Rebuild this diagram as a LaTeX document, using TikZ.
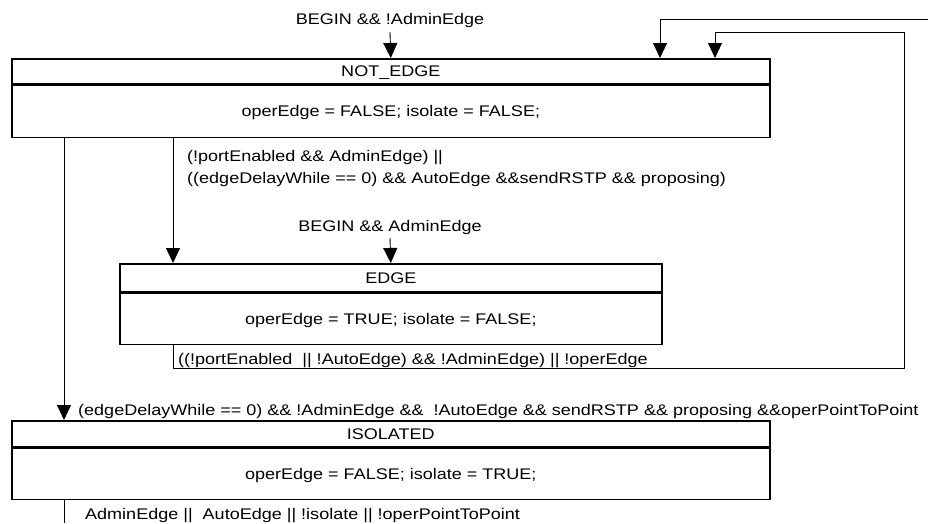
\documentclass[tikz,border=0pt]{standalone}
\usepackage{fontspec}
\setmainfont[FakeStretch=1.17]{Liberation Sans}
\usetikzlibrary{arrows.meta,calc}

\tikzset{
  boxline/.style={draw=black, line width=1.6pt},
  hdr/.style={boxline, anchor=north west, inner sep=0pt, text height=11pt, text depth=0pt},
  bodybox/.style={boxline, anchor=north west, inner sep=0pt, text height=11pt, text depth=0pt},
  cond/.style={inner sep=0pt, anchor=base west},
  initlbl/.style={inner sep=0pt, anchor=base},
  wire/.style={draw=black, line width=0.9pt},
  arr/.style={wire, -{Triangle[length=15pt,width=14pt]}}
}

\begin{document}
\begin{tikzpicture}[x=1pt, y=-1pt, font=\fontsize{15.4}{22}\selectfont]
  \path[fill=white] (0,0) rectangle (928,523);
  \useasboundingbox (0,0) rectangle (928,523);

  % column positions of the vertical connectors
  \coordinate (xa) at (64,0);
  \coordinate (xb) at (173,0);
  \coordinate (xc) at (660,0);

  % NOT_EDGE state
  \node[hdr, minimum width=758pt, minimum height=25pt] (ne) at (11,58) {NOT\_EDGE};
  \node[bodybox, minimum width=758pt, minimum height=52pt] (neb) at (ne.south west) {operEdge = FALSE; isolate = FALSE;};

  % EDGE state
  \node[hdr, minimum width=542pt, minimum height=28pt] (ed) at (119,263) {EDGE};
  \node[bodybox, minimum width=542pt, minimum height=51pt] (edb) at (ed.south west) {operEdge = TRUE; isolate = FALSE;};

  % ISOLATED state
  \node[hdr, minimum width=758pt, minimum height=26pt] (iso) at (11,420) {ISOLATED};
  \node[bodybox, minimum width=758pt, minimum height=51pt] (isob) at (iso.south west) {operEdge = FALSE; isolate = TRUE;};

  % initial transition into NOT_EDGE
  \node[initlbl] (beginNE) at (390,24) {BEGIN \&\& !AdminEdge};
  \coordinate (initNE) at (390,32);
  \draw[arr] (initNE) -- (ne.north);

  % initial transition into EDGE
  \node[initlbl] (beginED) at (390,231) {BEGIN \&\& AdminEdge};
  \coordinate (initED) at (390,238);
  \draw[arr] (initED) -- (ed.north);

  % NOT_EDGE -> EDGE
  \draw[arr] (neb.south -| xb) -- (ed.north -| xb);
  \node[cond] (c1) at (187,161) {(!portEnabled \&\& AdminEdge) ||};
  \node[cond] (c2) at (187,183) {((edgeDelayWhile == 0) \&\& AutoEdge \&\&sendRSTP \&\& proposing)};

  % EDGE -> NOT_EDGE (loop round the right side)
  \coordinate (fbA) at (904,368);
  \coordinate (fbB) at (715,32);
  \draw[arr] (edb.south -| xb) |- (fbA) |- (fbB) -- (ne.north -| fbB);
  \node[cond] (c3) at (178,364) {((!portEnabled~ || !AutoEdge) \&\& !AdminEdge) || !operEdge};

  % NOT_EDGE -> ISOLATED
  \draw[arr] (neb.south -| xa) -- (iso.north -| xa);
  \node[cond] (c4) at (78,415) {(edgeDelayWhile == 0) \&\& !AdminEdge \&\&~ !AutoEdge \&\& sendRSTP \&\& proposing \&\&operPointToPoint};

  % ISOLATED -> NOT_EDGE (runs out of the frame)
  \coordinate (isoOut) at (64,523);
  \draw[wire] (isob.south -| xa) -- (isoOut);
  \node[cond] (c5) at (85,519) {AdminEdge ||~ AutoEdge || !isolate || !operPointToPoint};
  \coordinate (isoIn) at (928,19);
  \draw[arr] (isoIn) -| (ne.north -| xc);
\end{tikzpicture}
\end{document}
